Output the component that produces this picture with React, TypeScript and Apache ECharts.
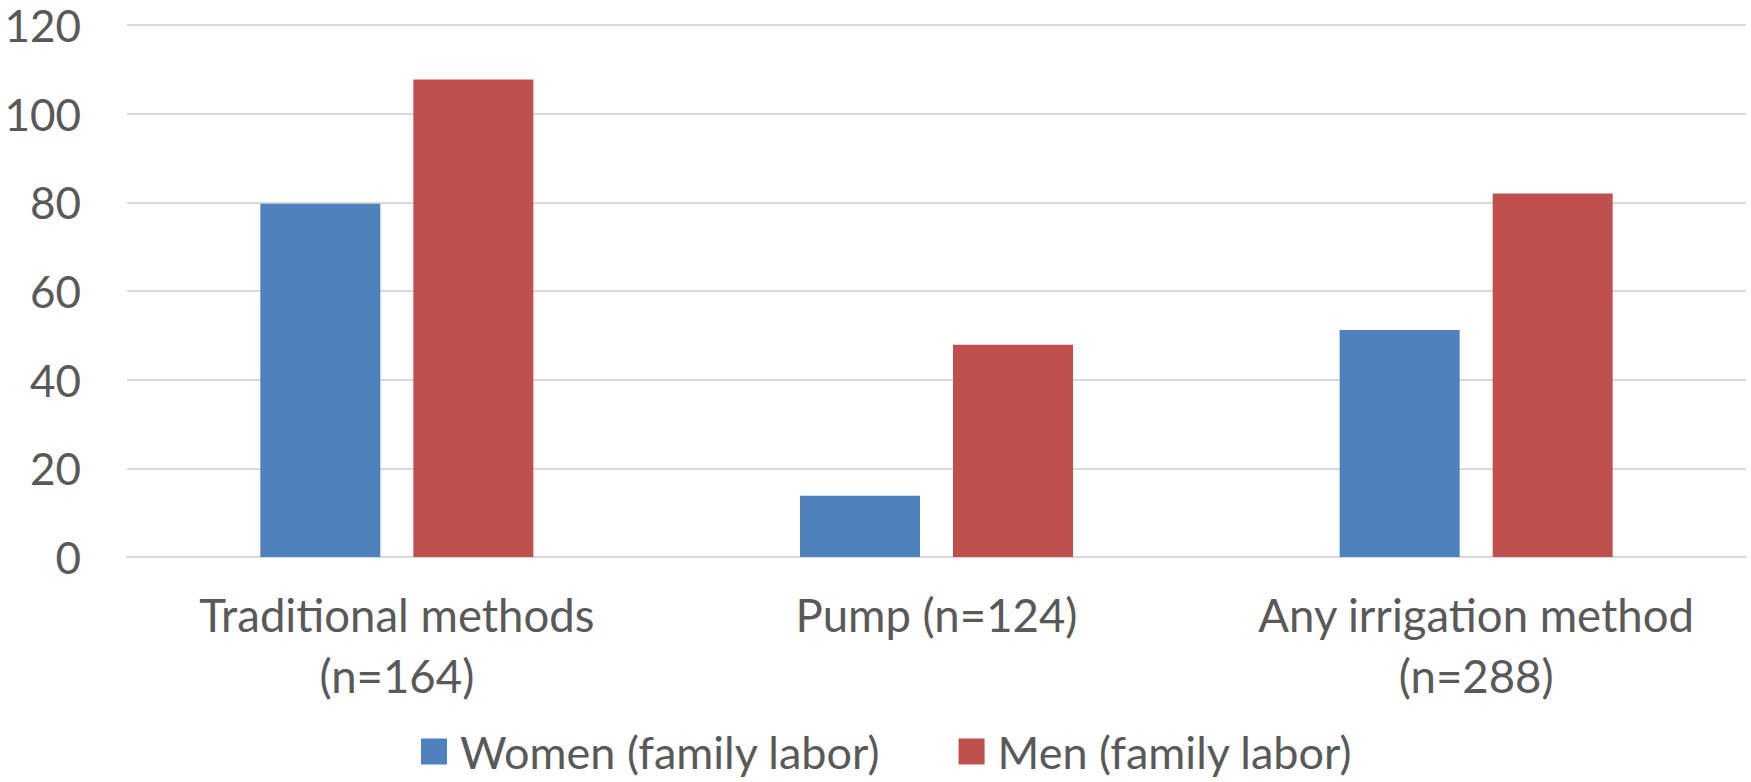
import React, { useEffect, useRef } from "react";
import * as echarts from "echarts";

const categories = ["Traditional methods\n(n=164)", "Pump (n=124)", "Any irrigation method\n(n=288)"];
const women = [79.7, 13.8, 51.2];
const men = [107.7, 47.9, 82.0];
const yTicks = { min: 0, max: 120, interval: 20 };

const FONT = "Lato, 'Noto Sans', sans-serif";
const TEXT = "#595959";

export default function App() {
  const ref = useRef<HTMLDivElement>(null);
  useEffect(() => {
    if (!ref.current) return;
    const chart = echarts.init(ref.current, undefined, { renderer: "svg" });
    chart.setOption({
      animation: false,
      backgroundColor: "#ffffff",
      textStyle: { fontFamily: FONT },
      grid: { left: 127, right: 5, top: 25, bottom: 225, containLabel: false },
      legend: {
        left: 421,
        top: 729,
        padding: 0,
        itemWidth: 26,
        itemHeight: 26,
        itemGap: 78,
        icon: "rect",
        textStyle: { fontFamily: FONT, fontSize: 45, lineHeight: 44, color: TEXT, padding: [0, 0, 0, 8] },
        data: ["Women (family labor)", "Men (family labor)"],
      },
      xAxis: {
        type: "category",
        data: categories,
        axisLine: { show: true, lineStyle: { color: "#D9D9D9", width: 2 } },
        axisTick: { show: false },
        axisLabel: {
          interval: 0,
          margin: 27,
          fontFamily: FONT,
          fontSize: 45.5,
          lineHeight: 61,
          color: TEXT,
        },
      },
      yAxis: {
        type: "value",
        min: yTicks.min,
        max: yTicks.max,
        interval: yTicks.interval,
        axisLine: { show: false },
        axisTick: { show: false },
        splitLine: { lineStyle: { color: "#D9D9D9", width: 2 } },
        axisLabel: { margin: 46, fontFamily: FONT, fontSize: 44, color: TEXT },
      },
      series: [
        {
          name: "Women (family labor)",
          type: "bar",
          data: women,
          barWidth: 120,
          barGap: "27.5%",
          itemStyle: { color: "#4F81BD" },
        },
        {
          name: "Men (family labor)",
          type: "bar",
          data: men,
          barWidth: 120,
          barGap: "27.5%",
          itemStyle: { color: "#C0504D" },
        },
      ],
    });
    return () => chart.dispose();
  }, []);
  return (
    <div
      ref={ref}
      style={{ position: "fixed", left: 0, top: 0, width: 1751, height: 782, background: "#fff" }}
    />
  );
}
